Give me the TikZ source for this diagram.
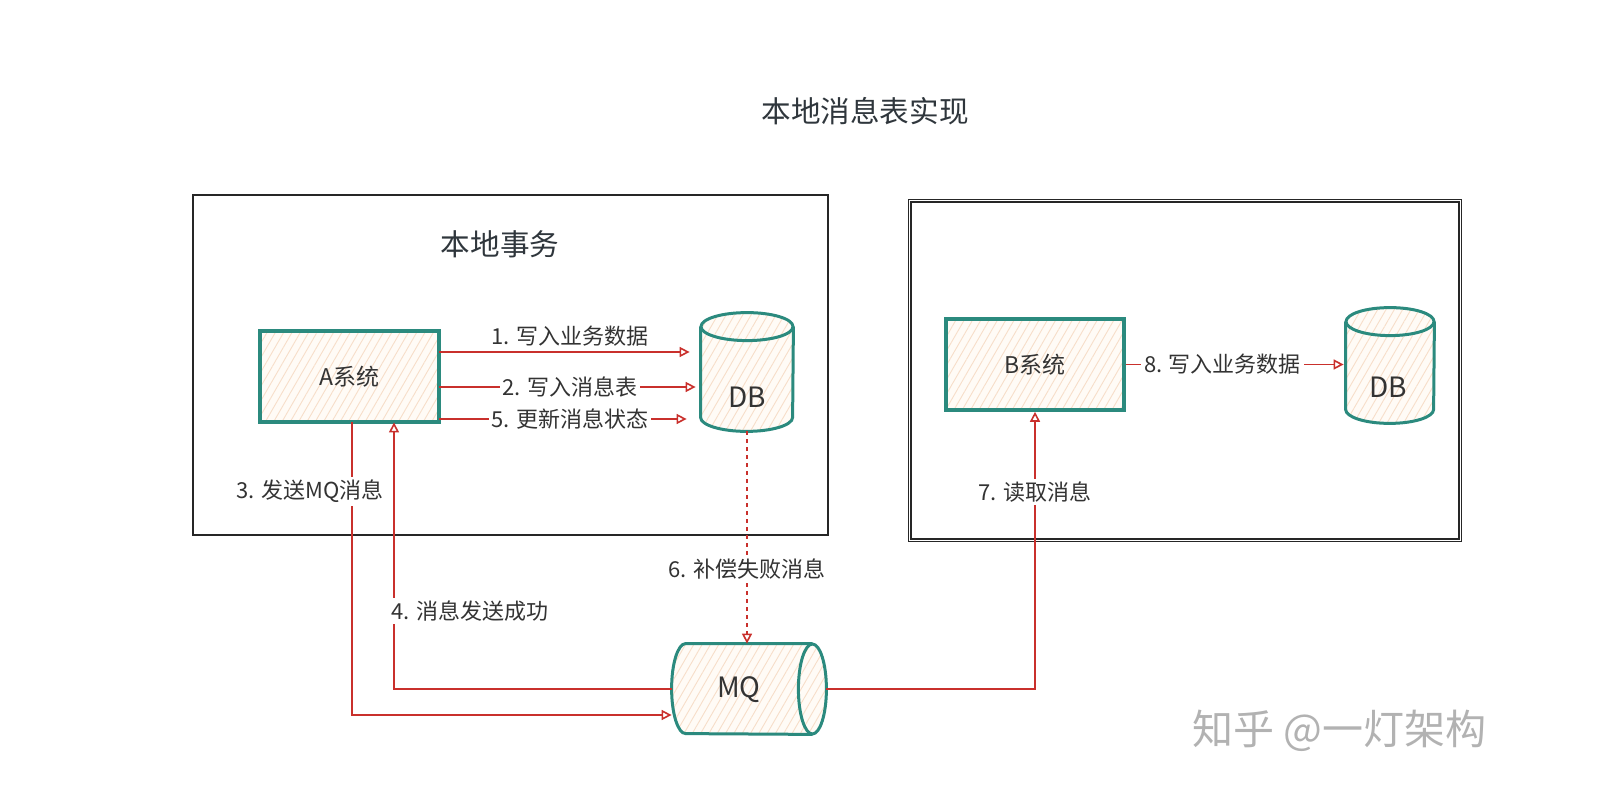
\documentclass[tikz,border=0pt]{standalone}
\usepackage{fontspec}
\setmainfont{Noto Sans CJK SC}
\usetikzlibrary{arrows.meta,patterns.meta,calc}
\definecolor{teal1}{HTML}{2B8A7E}
\definecolor{red1}{HTML}{C9302C}
\definecolor{peachbg}{HTML}{FFFBF6}
\definecolor{peachln}{HTML}{F7DEC9}
\definecolor{txt}{HTML}{333333}
\definecolor{ttl}{HTML}{2F363C}
\newcommand\dbshape[3]{%
  \path[hatch] ([yshift=-#3]#1.north west) -- ([yshift=#3]#1.south west)
     arc[start angle=180,end angle=360,x radius=#2,y radius=#3]
     -- ([yshift=-#3]#1.north east)
     arc[start angle=0,end angle=180,x radius=#2,y radius=#3] -- cycle;
  \draw[cyl] ([yshift=-#3]#1.north west) -- ([yshift=#3]#1.south west)
     arc[start angle=180,end angle=360,x radius=#2,y radius=#3]
     -- ([yshift=-#3]#1.north east);
  \draw[cyl] ([yshift=-#3]#1.north) ellipse[x radius=#2,y radius=#3];
}
\tikzset{
  hatch/.style={preaction={fill=peachbg}, pattern={Lines[angle=60,distance=3.6pt,line width=0.45pt]}, pattern color=peachln},
  sysbox/.style={draw=teal1, line width=1.8pt, hatch, font=\fontsize{11.5pt}{13pt}\selectfont, text=txt, inner sep=0pt},
  frame/.style={draw=black!85, line width=1pt, inner sep=0pt},
  holder/.style={inner sep=0pt, draw=none},
  cyl/.style={draw=teal1, line width=1.5pt},
  arr/.style={draw=red1, line width=0.8pt, -{Triangle[open, length=5pt, width=5pt]}},
  lbl/.style={font=\fontsize{11pt}{13pt}\selectfont, text=txt, inner sep=1.5pt},
  lblw/.style={lbl, fill=white},
  shapetext/.style={font=\fontsize{14pt}{16pt}\selectfont, text=txt, inner sep=0pt},
  heading/.style={font=\fontsize{14.8pt}{17pt}\selectfont, text=ttl, inner sep=0pt},
  wm/.style={font=\fontsize{20.5pt}{23pt}\selectfont, text=black!30, inner sep=0pt},
}
\begin{document}
\begin{tikzpicture}[x=0.5pt,y=-0.5pt]
\useasboundingbox (0,0) rectangle (1609,795);

% titles
\node[heading] (T) at (865,111) {本地消息表实现};

% frames
\node[frame, minimum width=317.5pt, minimum height=170pt] (F1) at (510.5,365) {};
\node[frame, minimum width=274pt, minimum height=168.5pt] (F2) at (1185,370.5) {};
\draw[frame, line width=0.7pt] ([shift={(-0.9pt,0.8pt)}]F2.north west) rectangle ([shift={(0.8pt,-0.9pt)}]F2.south east);
\node[heading] (LT) at (500,244) {本地事务};

% systems
\node[sysbox, minimum width=89.5pt, minimum height=45.5pt] (A) at (349.5,376.5) {A系统};
\node[sysbox, minimum width=89pt, minimum height=45.5pt] (B) at (1035,364.5) {B系统};

% databases
\node[holder, minimum width=46pt, minimum height=59pt] (DB1) at (747,372) {};
\dbshape{DB1}{23pt}{7pt}
\node[shapetext] (DB1t) at (747,397) {DB};
\node[holder, minimum width=44pt, minimum height=57.5pt] (DB2) at (1390,365.5) {};
\dbshape{DB2}{22pt}{7pt}
\node[shapetext] (DB2t) at (1388,387) {DB};

% MQ
\node[holder, minimum width=77pt, minimum height=45pt] (MQ) at (749,689) {};
\path[hatch] ([xshift=7pt]MQ.north west)
   arc[start angle=90,end angle=270,x radius=7pt,y radius=22.5pt]
   -- ([xshift=-7pt]MQ.south east)
   arc[start angle=270,end angle=450,x radius=7pt,y radius=22.5pt] -- cycle;
\draw[cyl] ([xshift=-7pt]MQ.north east) -- ([xshift=7pt]MQ.north west)
   arc[start angle=90,end angle=270,x radius=7pt,y radius=22.5pt]
   -- ([xshift=-7pt]MQ.south east);
\draw[cyl] ([xshift=-7pt]MQ.east) ellipse[x radius=7pt,y radius=22.5pt];
\node[shapetext] (MQt) at (739,690) {MQ};

% arrows A -> DB
\draw[arr, shorten >=5.5pt] ([yshift=12.25pt]A.east) -- node[lbl, above=1pt]{1. 写入业务数据} ([yshift=12.25pt]A.east -| DB1.west);
\draw[arr, shorten >=2.5pt] ([yshift=-5.25pt]A.east) -- node[lblw]{2. 写入消息表} ([yshift=-5.25pt]A.east -| DB1.west);
\draw[arr, shorten >=7pt] ([yshift=-21.25pt]A.east) -- node[lblw]{5. 更新消息状态} ([yshift=-21.25pt]A.east -| DB1.west);

% A -> MQ (3)
\draw[arr] ([xshift=1.25pt]A.south) |- node[lblw, pos=0.118, xshift=-21pt]{3. 发送MQ消息} ([yshift=-13pt]MQ.west);
% MQ -> A (4)
\draw[arr] (MQ.west) -| node[lblw, pos=0.646, xshift=38pt]{4. 消息发送成功} ([xshift=22.25pt]A.south);
% DB -> MQ (6)
\draw[arr, dash pattern=on 2pt off 2pt] (DB1.south) -- node[lblw, pos=0.65]{6. 补偿失败消息} (DB1.south |- MQ.north);
% MQ -> B (7)
\draw[arr] (MQ.east) -| node[lblw, pos=0.855]{7. 读取消息} (B.south);
% B -> DB2 (8)
\draw[arr, shorten >=1pt] (B.east) -- node[lblw, pos=0.44]{8. 写入业务数据} (B.east -| DB2.west);

% watermark
\node[wm] (WM) at (1339,731) {知乎 @一灯架构};
\end{tikzpicture}
\end{document}
